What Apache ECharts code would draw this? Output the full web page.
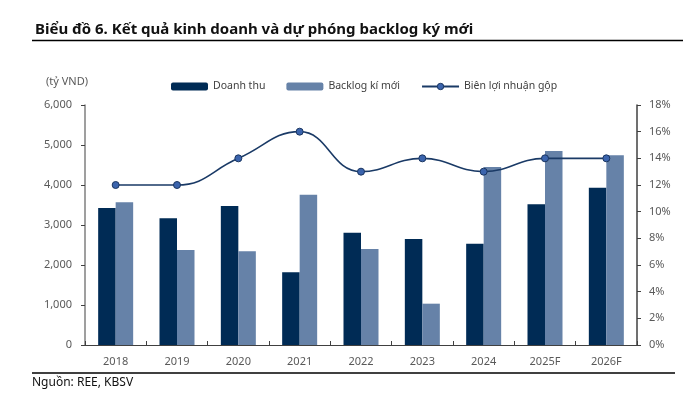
<!DOCTYPE html>
<html><head><meta charset="utf-8">
<script src="https://cdn.jsdelivr.net/npm/echarts@6/dist/echarts.min.js"></script>
<style>html,body{margin:0;padding:0;background:#fff;}#c{width:687px;height:395px;}</style>
</head><body><div id="c"></div>
<script>
const categories = ['2018','2019','2020','2021','2022','2023','2024','2025F','2026F'];
const doanhThu = [3425, 3167, 3475, 1817, 2808, 2650, 2533, 3517, 3933];
const backlog = [3567, 2375, 2342, 3758, 2400, 1033, 4450, 4850, 4742];
const bienLoiNhuan = [12, 12, 14, 16, 13, 14, 13, 14, 14];
const leftTicks = [0, 6000, 1000];
const rightTicks = [0, 18, 2];

const chart = echarts.init(document.getElementById('c'), null, {renderer:'canvas'});
const font = 'Noto Sans';
chart.setOption({
  animation: false,
  textStyle: {fontFamily: font},
  title: {
    text: 'Biểu đồ 6. Kết quả kinh doanh và dự phóng backlog ký mới',
    left: 30, top: 17,
    textStyle: {fontFamily: font, fontSize: 15, fontWeight: 'bold', color: '#111'}
  },
  graphic: [
    {type:'line', shape:{x1:32,y1:40.5,x2:683,y2:40.5}, style:{stroke:'#000',lineWidth:1.5}},
    {type:'line', shape:{x1:32,y1:373,x2:675,y2:373}, style:{stroke:'#000',lineWidth:1.5}},
    {type:'text', left:32, top:377, style:{text:'Nguồn: REE, KBSV', font:'12px "Noto Sans"', fill:'#111'}},
    {type:'text', left:46, top:76, style:{text:'(tỷ VND)', font:'11px "Noto Sans"', fill:'#595959'}}
  ],
  legend: {
    left: 166, top: 76, itemGap: 21, itemWidth: 37, itemHeight: 8,
    textStyle: {fontFamily: font, fontSize: 10.5, color: '#404040'},
    data: [
      {name:'Doanh thu'},
      {name:'Backlog kí mới'},
      {name:'Biên lợi nhuận gộp', itemStyle:{color:'#3b64ad', borderColor:'#1a3560', borderWidth:1}}
    ]
  },
  grid: {left: 85, right: 50, top: 105, bottom: 50},
  xAxis: {
    type: 'category', data: categories,
    axisLine: {lineStyle: {color: '#404040', width: 1}},
    axisTick: {show: true, inside: true, length: 4, lineStyle:{color:'#404040'}},
    axisLabel: {color: '#595959', fontSize: 11, margin: 11, fontFamily: font}
  },
  yAxis: [
    {
      type: 'value', min: leftTicks[0], max: leftTicks[1], interval: leftTicks[2],
      axisLine: {show: true, lineStyle: {color: '#7f7f7f', width: 1.5}},
      axisTick: {show: true, length: 4, lineStyle:{color:'#404040'}},
      splitLine: {show: false},
      axisLabel: {color: '#595959', fontSize: 11, margin: 13, fontFamily: font,
        formatter: v => v.toLocaleString('en-US')}
    },
    {
      type: 'value', min: rightTicks[0], max: rightTicks[1], interval: rightTicks[2],
      position: 'right',
      axisLine: {show: true, lineStyle: {color: '#404040', width: 1.5}},
      axisTick: {show: true, length: 4, lineStyle:{color:'#404040'}},
      splitLine: {show: false},
      axisLabel: {color: '#595959', fontSize: 11, margin: 12, fontFamily: font, formatter: '{value}%'}
    }
  ],
  series: [
    {name:'Doanh thu', type:'bar', data: doanhThu, barWidth: 17.5, barGap: '0%',
     itemStyle:{color:'#002b55'}},
    {name:'Backlog kí mới', type:'bar', data: backlog, barWidth: 17.5, barGap: '0%',
     itemStyle:{color:'#6682a8'}},
    {name:'Biên lợi nhuận gộp', type:'line', yAxisIndex: 1, data: bienLoiNhuan,
     smooth: 0.45, symbol:'circle', symbolSize: 7,
     lineStyle:{color:'#1a3a66', width: 1.6},
     itemStyle:{color:'#3b64ad', borderColor:'#1a3560', borderWidth: 1}}
  ]
});
</script></body></html>
